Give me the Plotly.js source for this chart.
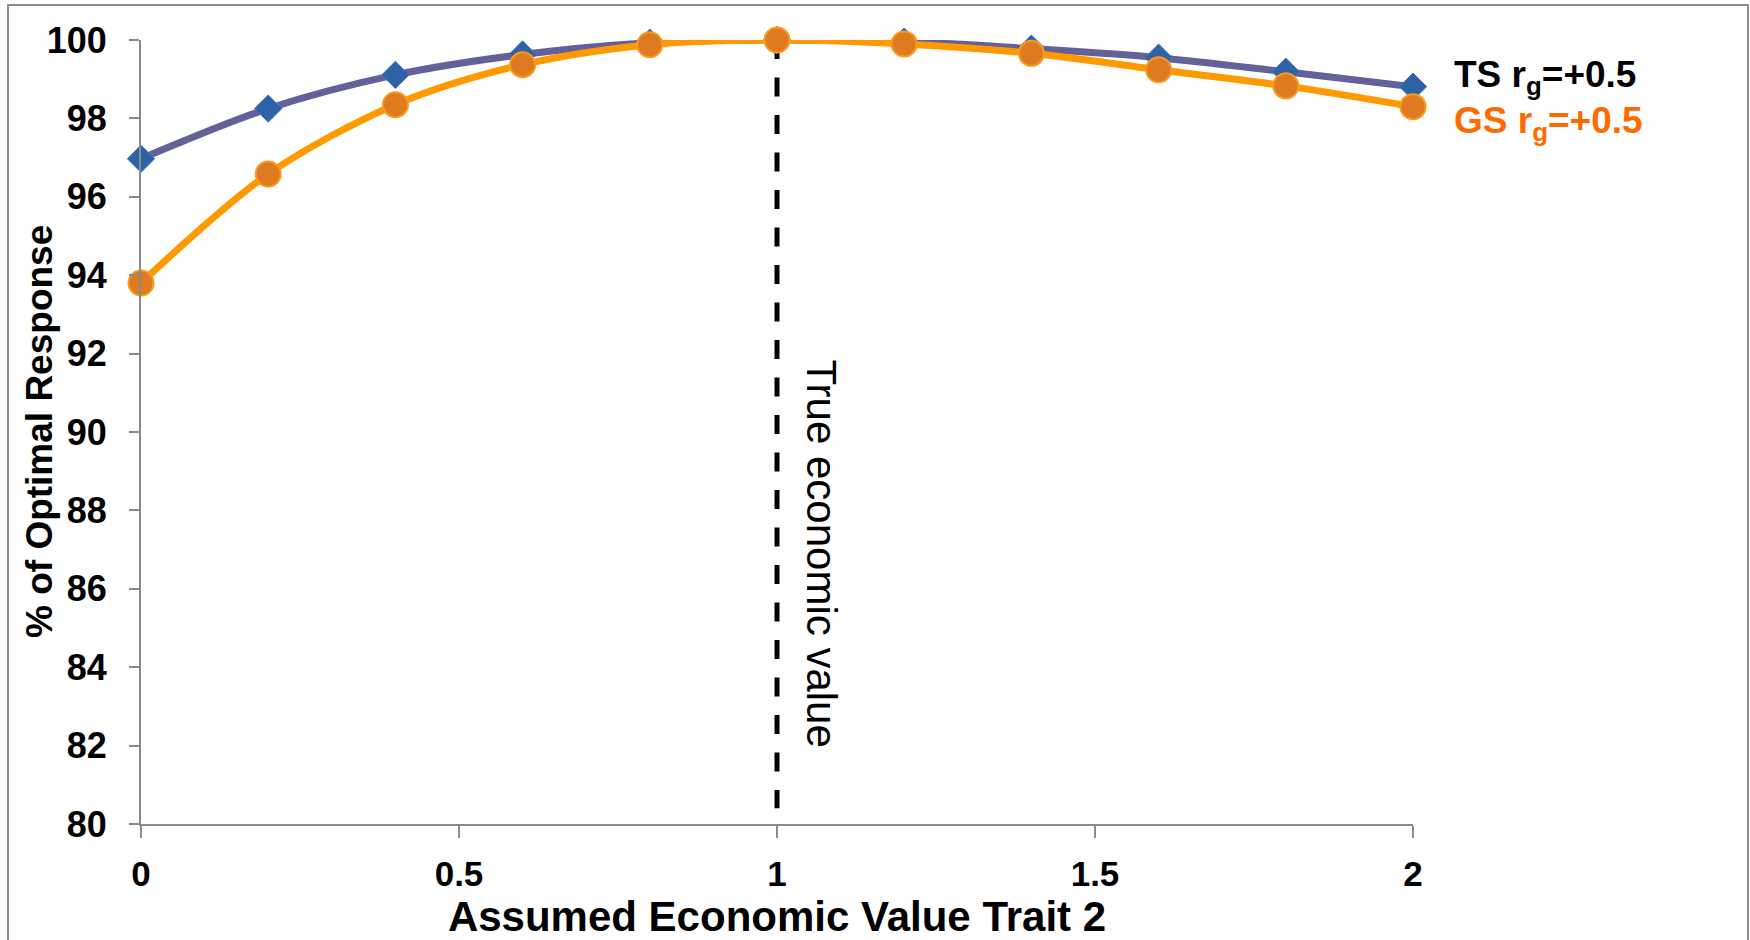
<!DOCTYPE html>
<html>
<head>
<meta charset="utf-8">
<script src="https://cdn.plot.ly/plotly-3.0.1.min.js"></script>
<style>
  html, body { margin: 0; padding: 0; background: #ffffff; }
  #chart { width: 1750px; height: 940px; }
</style>
</head>
<body>
<div id="chart"></div>
<script>
// ---- Data ----
const assumedValue = [0, 0.2, 0.4, 0.6, 0.8, 1.0, 1.2, 1.4, 1.6, 1.8, 2.0];
const tsResponse = [96.97, 98.25, 99.11, 99.63, 99.93, 100.0, 99.96, 99.78, 99.55, 99.19, 98.81];
const gsResponse = [93.80, 96.58, 98.35, 99.37, 99.88, 100.0, 99.90, 99.66, 99.24, 98.83, 98.30];
const seriesNames = ["TS r<sub>g</sub>=+0.5", "GS r<sub>g</sub>=+0.5"];
const trueEconomicValue = [1];
const xTickValues = [0, 0.5, 1, 1.5, 2];
const xTickLabels = ["0", "0.5", "1", "1.5", "2"];
const yTickValues = [80, 82, 84, 86, 88, 90, 92, 94, 96, 98, 100];
const yTickLabels = ["80", "82", "84", "86", "88", "90", "92", "94", "96", "98", "100"];
const xTitle = "Assumed Economic Value Trait 2";
const yTitle = "% of Optimal Response";
const vlineLabel = "True economic value";

const FONT = "Liberation Sans, Arial, Helvetica, sans-serif";

const traces = [
  {
    x: assumedValue, y: tsResponse, name: seriesNames[0],
    type: "scatter", mode: "lines+markers",
    line: { color: "#64609A", width: 7, shape: "spline", smoothing: 0.9 },
    marker: { symbol: "diamond", size: 21, color: "#2E62A6",
              line: { color: "#3F74B8", width: 1 } },
    cliponaxis: false, hoverinfo: "x+y"
  },
  {
    x: assumedValue, y: gsResponse, name: seriesNames[1],
    type: "scatter", mode: "lines+markers",
    line: { color: "#FF9900", width: 7, shape: "spline", smoothing: 0.9 },
    marker: { symbol: "circle", size: 25, color: "#DF7A20",
              line: { color: "#F89A1C", width: 2 } },
    cliponaxis: false, hoverinfo: "x+y"
  }
];

const plotL = 141, plotR = 1413, plotT = 40, plotB = 824;
const pw = plotR - plotL, ph = plotB - plotT;
const px = p => (p - plotL) / pw;
const py = p => (plotB - p) / ph;

const layout = {
  width: 1750, height: 940,
  margin: { l: plotL, r: 1750 - plotR, t: plotT, b: 940 - plotB, pad: 0 },
  paper_bgcolor: "#ffffff", plot_bgcolor: "#ffffff",
  showlegend: false,
  font: { family: FONT, color: "#000000" },
  xaxis: {
    range: [0, 2], tickvals: xTickValues, ticktext: xTickLabels,
    showgrid: false, zeroline: false,
    showline: true, linecolor: "#8A8A8A", linewidth: 2,
    ticks: "outside", ticklen: 12, tickwidth: 2, tickcolor: "#8A8A8A",
    tickfont: { family: FONT, size: 35, color: "#000000", weight: "bold" },
    ticklabelstandoff: 6,
    automargin: false,
    title: { text: "<b>" + xTitle + "</b>", font: { family: FONT, size: 42, color: "#000000" }, standoff: 6 }
  },
  yaxis: {
    range: [80, 100], tickvals: yTickValues, ticktext: yTickLabels,
    showgrid: false, zeroline: false,
    showline: true, linecolor: "#8A8A8A", linewidth: 2,
    ticks: "outside", ticklen: 10, tickwidth: 2, tickcolor: "#8A8A8A",
    tickfont: { family: FONT, size: 36, color: "#000000", weight: "bold" },
    ticklabelstandoff: 15,
    automargin: false
  },
  shapes: [
    {
      type: "line", xref: "x", yref: "y",
      x0: trueEconomicValue[0], x1: trueEconomicValue[0], y0: 100, y1: 80.4,
      line: { color: "#000000", width: 5, dash: "19px,18.5px" },
      layer: "below"
    },
    {
      type: "rect", xref: "paper", yref: "paper",
      x0: px(8), x1: px(1748), y0: py(945), y1: py(5),
      line: { color: "#8C8C8C", width: 2 }, fillcolor: "rgba(0,0,0,0)",
      layer: "below"
    }
  ],
  annotations: [
    {
      x: px(39), xref: "paper", xanchor: "center",
      y: 0.5, yref: "paper", yanchor: "middle",
      text: "<b>" + yTitle + "</b>", textangle: -90, showarrow: false,
      font: { family: FONT, size: 37, color: "#000000" }
    },
    {
      x: trueEconomicValue[0], xref: "x", xshift: 44, y: 86.9, yref: "y",
      text: vlineLabel, textangle: 90, showarrow: false,
      font: { family: FONT, size: 42, color: "#000000" }
    },
    {
      x: px(1452), xref: "paper", xanchor: "left",
      y: py(77), yref: "paper", yanchor: "middle",
      text: "<b>" + seriesNames[0] + "</b>", showarrow: false,
      font: { family: FONT, size: 37, color: "#000000" }
    },
    {
      x: px(1452), xref: "paper", xanchor: "left",
      y: py(123), yref: "paper", yanchor: "middle",
      text: "<b>" + seriesNames[1] + "</b>", showarrow: false,
      font: { family: FONT, size: 37, color: "#FF6A00" }
    }
  ]
};

Plotly.newPlot("chart", traces, layout, { displayModeBar: false, staticPlot: true });
</script>
</body>
</html>
